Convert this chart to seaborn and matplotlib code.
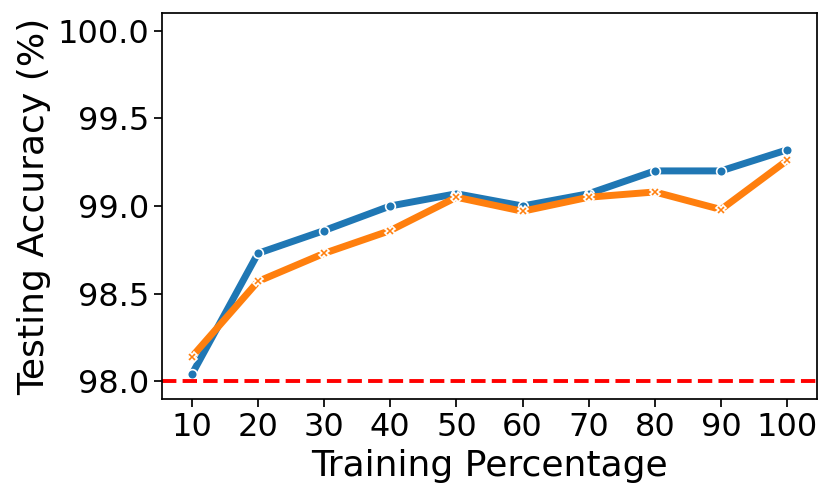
import matplotlib
matplotlib.use("Agg")
import matplotlib.pyplot as plt
import seaborn as sns
import pandas as pd

training_pct = [10, 20, 30, 40, 50, 60, 70, 80, 90, 100]
series_a = [98.04, 98.73, 98.86, 99.00, 99.07, 99.00, 99.07, 99.20, 99.20, 99.32]
series_b = [98.14, 98.57, 98.73, 98.86, 99.05, 98.97, 99.05, 99.08, 98.98, 99.26]
series_names = ["A", "B"]
baseline = 98.0
yticks = [98.0, 98.5, 99.0, 99.5, 100.0]

df = pd.DataFrame({
    "Training Percentage": training_pct * 2,
    "Testing Accuracy (%)": series_a + series_b,
    "Method": [series_names[0]] * len(training_pct) + [series_names[1]] * len(training_pct),
})

sns.set_style("ticks")
plt.rcParams["font.family"] = ["DejaVu Sans"]
plt.rcParams["text.color"] = "black"
plt.rcParams["axes.labelcolor"] = "black"
plt.rcParams["xtick.color"] = "black"
plt.rcParams["ytick.color"] = "black"

fig = plt.figure(figsize=(8.31, 5.0), dpi=100)
ax = fig.add_axes([0.195, 0.202, 0.788, 0.772])

sns.lineplot(data=df, x="Training Percentage", y="Testing Accuracy (%)",
             hue="Method", style="Method", markers=True, dashes=False,
             linewidth=5, markersize=7, markeredgecolor="white",
             markeredgewidth=1.2, legend=False, ax=ax)

ax.axhline(baseline, color="red", linestyle="--", linewidth=2.8)

ax.set_ylim(97.9, 100.1)
ax.set_yticks(yticks)
ax.set_xticks(training_pct)
ax.tick_params(axis="both", labelsize=23, length=6, width=1.25, colors="black")
ax.set_xlabel("Training Percentage", fontsize=26, color="black")
ax.set_ylabel("Testing Accuracy (%)", fontsize=26, color="black")
for s in ax.spines.values():
    s.set_linewidth(1.25)
    s.set_color("black")

fig.savefig("out.png", dpi=100)
